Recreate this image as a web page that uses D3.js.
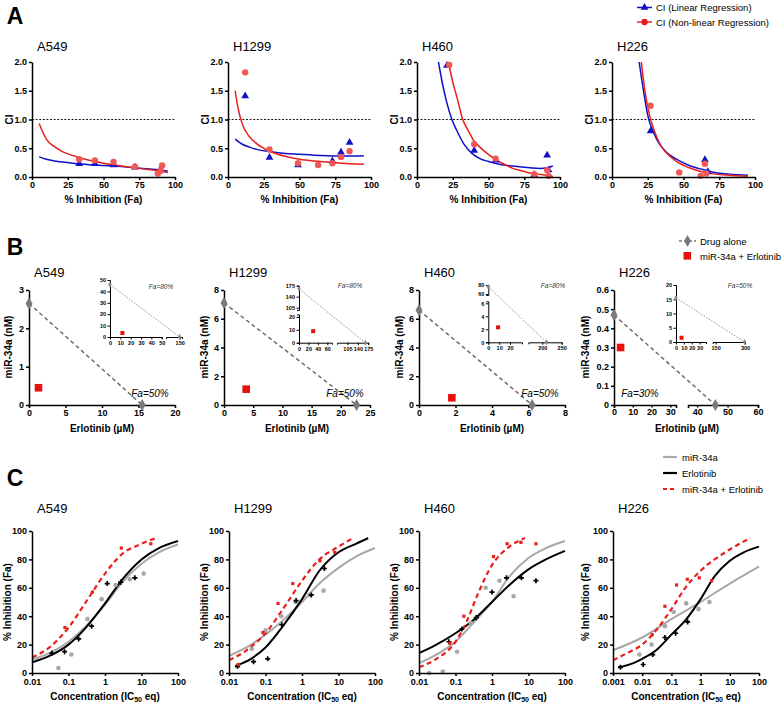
<!DOCTYPE html>
<html><head><meta charset="utf-8">
<script src="https://cdn.jsdelivr.net/npm/d3@7/dist/d3.min.js"></script>
<style>body{margin:0;background:#fff}svg{display:block}</style>
</head><body>
<svg id="chart" width="783" height="704"></svg>
<script>
// ================= DATA =================
const cellLines = ["A549", "H1299", "H460", "H226"];

// ---- Panel A: CI vs Fa ----
const ciXTicks = [0, 25, 50, 75, 100];
const ciYTicks = [0, 0.5, 1.0, 1.5, 2.0];
const ciLinCurveA549 = [[5,.35],[10,.31],[20,.265],[30,.235],[40,.215],[50,.2],[60,.185],[70,.165],[80,.145],[90,.12],[95,.1]];
const ciNonCurveA549 = [[5,.93],[10,.66],[15,.54],[20,.46],[30,.36],[40,.29],[50,.24],[60,.2],[70,.165],[80,.135],[90,.1],[95,.08]];
const ciLinPtsA549 = [[33,.23],[44,.23],[57,.21],[72,.17],[89,.1]];
const ciNonPtsA549 = [[33,.31],[44,.29],[57,.26],[72,.18],[88,.06],[90,.12],[91,.2]];
const ciLinCurveH1299 = [[5,.66],[10,.57],[15,.52],[20,.48],[30,.44],[40,.41],[50,.395],[60,.38],[70,.37],[80,.365],[90,.365],[95,.37]];
const ciNonCurveH1299 = [[5,1.5],[7,1.2],[10,.92],[15,.7],[20,.58],[30,.44],[40,.36],[50,.31],[60,.28],[70,.26],[80,.24],[90,.225],[95,.22]];
const ciLinPtsH1299 = [[12,1.41],[29,.34],[49,.21],[73,.28],[79,.43],[85,.6]];
const ciNonPtsH1299 = [[12,1.82],[29,.48],[49,.24],[63,.21],[73,.24],[79,.35],[85,.45]];
const ciLinCurveH460 = [[15,2.0],[18,1.6],[21,1.28],[24.4,1.0],[28,.8],[32.6,.58],[38,.42],[44,.32],[50,.27],[56,.23],[67,.19],[79,.16],[86,.15],[91,.16],[95,.19]];
const ciNonCurveH460 = [[22,2.0],[25,1.65],[28,1.38],[32,1.0],[36,.8],[39.5,.64],[44,.52],[49,.41],[56,.29],[62,.21],[67,.15],[73,.11],[79,.07],[85,.05],[91,.03],[95,.01]];
const ciLinPtsH460 = [[21,1.94],[40,.46],[55,.29],[82,.04],[91,.38],[92,.12]];
const ciNonPtsH460 = [[22.5,1.95],[40,.57],[55,.32],[82,.05],[91,.12],[92,.02]];
const ciLinCurveH226 = [[19,2.0],[22,1.5],[25.6,1.01],[29,.78],[33,.58],[38,.43],[45,.31],[54,.2],[63.5,.13],[72,.08],[82,.05],[95,.03]];
const ciNonCurveH226 = [[20.5,2.0],[23,1.5],[26.5,1.05],[30,.78],[33,.6],[38,.42],[45,.27],[54,.16],[63,.09],[72,.05],[82,.03],[95,.015]];
const ciLinPtsH226 = [[27,.8],[65,.3],[67,.09]];
const ciNonPtsH226 = [[27,1.24],[47,.08],[62,.02],[65,.23],[66,.06]];
const ciLegend = ["CI (Linear Regression)", "CI (Non-linear Regression)"];

// ---- Panel B: isobolograms ----
const isoDrugA549 = [[0,2.65],[15.5,0]];
const isoComboA549 = [[1.3,0.45]];
const isoDrugH1299 = [[0,7.1],[22.7,0]];
const isoComboH1299 = [[3.8,1.1]];
const isoDrugH460 = [[0,6.6],[6.2,0]];
const isoComboH460 = [[1.8,0.5]];
const isoDrugH226 = [[0,0.47],[46,0]];
const isoComboH226 = [[3.5,0.3]];
const isoYMax = [3, 8, 8, 0.6];
const isoYTicks = [[0,1,2,3],[0,2,4,6,8],[0,2,4,6,8],[0,0.1,0.2,0.3,0.4,0.5,0.6]];
const isoXMax = [20, 25, 8];
const isoXTicks = [[0,5,10,15,20],[0,5,10,15,20,25],[0,2,4,6,8]];
const isoXTicksH226 = [[0,10,20,30],[40,50,60]];
const isoFaMain = ["Fa=50%", "Fa=50%", "Fa=50%", "Fa=30%"];
// insets (Fa=80% / 50%)
const insDrugA549 = [[0,46],[150,0]];
const insComboA549 = [[12,3.5]];
const insDrugH1299 = [[0,165],[165,0]];
const insComboH1299 = [[30,9]];
const insDrugH460 = [[0,76],[211,0]];
const insComboH460 = [[9,2.3]];
const insDrugH226 = [[0,15.5],[298,0]];
const insComboH226 = [[7,1.5]];
const insFa = ["Fa=80%", "Fa=80%", "Fa=80%", "Fa=50%"];
const isoLegend = ["Drug alone", "miR-34a + Erlotinib"];

// ---- Panel C: dose-response ----
const drXTicks = [0.01, 0.1, 1, 10, 100];
const drXTicksH226 = [0.001, 0.01, 0.1, 1, 10, 100];
const drYTicks = [0, 20, 40, 60, 80, 100];
const mirCurveA549 = [[0.01,9.5],[0.03,14],[0.1,22],[0.3,33],[1,48],[3,64],[10,77],[30,85],[100,90.5]];
const erlCurveA549 = [[0.01,7.5],[0.03,12],[0.1,20],[0.3,32],[1,49],[3,66],[10,80],[30,88],[100,93]];
const cmbCurveA549 = [[0.01,11],[0.03,18],[0.1,32],[0.3,50],[1,70],[3,84],[10,91],[25,95]];
const mirPtsA549 = [[0.053,3.5],[0.12,13],[0.33,38],[0.81,52],[1.95,62],[4.8,66],[11.5,70]];
const erlPtsA549 = [[0.035,14],[0.078,15],[0.19,24],[0.43,33],[1.15,63],[2.7,64],[6.6,67]];
const cmbPtsA549 = [[0.08,32],[0.45,57],[2.8,88],[18,91]];
const mirCurveH1299 = [[0.01,12],[0.03,18],[0.1,27],[0.3,37],[1,50],[3,63],[10,74],[30,82],[100,88]];
const erlCurveH1299 = [[0.015,5],[0.04,10],[0.1,18],[0.3,33],[1,52],[3,72],[10,85],[30,91],[65,95]];
const cmbCurveH1299 = [[0.01,9],[0.03,16],[0.1,28],[0.3,45],[1,65],[3,80],[10,89],[25,95]];
const mirPtsH1299 = [[0.018,5],[0.042,17],[0.1,30],[0.27,40],[0.66,50],[1.6,55],[3.9,58]];
const erlPtsH1299 = [[0.017,4.7],[0.047,8],[0.115,10],[0.28,34],[0.69,51],[1.8,55],[4.1,73.6]];
const cmbPtsH1299 = [[0.018,6],[0.085,28.5],[0.22,49],[0.56,63],[3.1,79],[7.9,85]];
const mirCurveH460 = [[0.01,7],[0.03,13],[0.1,22],[0.3,35],[1,50],[3,68],[10,81],[30,88],[100,93]];
const erlCurveH460 = [[0.01,14],[0.03,20],[0.1,28],[0.3,37],[1,50],[3,62],[10,73],[30,80],[100,86]];
const cmbCurveH460 = [[0.01,4],[0.03,10],[0.1,22],[0.2,36],[0.4,55],[1,76],[3,89],[8,95]];
const mirPtsH460 = [[0.019,0],[0.045,1],[0.11,15],[0.27,35],[0.67,60],[1.6,65],[3.9,54]];
const erlPtsH460 = [[0.066,22],[0.15,31],[0.37,39],[1.0,57],[2.5,67],[6.4,67],[16,65]];
const cmbPtsH460 = [[0.07,21],[0.17,40],[1.1,82],[2.6,91],[6.2,92],[16,91]];
const mirCurveH226 = [[0.001,16],[0.01,25],[0.1,38],[1,50],[10,63],[100,75]];
const erlCurveH226 = [[0.0015,4],[0.005,7],[0.01,10],[0.03,16],[0.1,27],[0.3,37],[1,52],[3,68],[10,79],[30,85],[100,89]];
const cmbCurveH226 = [[0.001,9],[0.003,14],[0.01,20],[0.03,30],[0.1,45],[0.3,60],[1,72],[3,80],[10,87],[50,95]];
const mirPtsH226 = [[0.008,13],[0.021,20],[0.06,33],[0.12,43],[0.32,49],[0.85,45],[2.0,50]];
const erlPtsH226 = [[0.0018,4],[0.0108,6],[0.023,13],[0.06,25],[0.14,28],[0.36,36]];
const cmbPtsH226 = [[0.022,27],[0.06,47],[0.15,62],[0.35,66],[0.9,67],[2.4,65]];
const drLegend = ["miR-34a", "Erlotinib", "miR-34a + Erlotinib"];

// ================= DRAWING =================
const FAM = '"Liberation Sans", Arial, Helvetica, sans-serif';
const svg = d3.select("#chart");
const defs = svg.append("defs");
const RED = "#e8201c", BLUE = "#1010c8", REDPT = "#f05858";

function styleAxis(sel, fs, sw) {
  sel.selectAll(".domain").attr("stroke", "#000").attr("stroke-width", sw);
  sel.selectAll(".tick line").attr("stroke", "#000").attr("stroke-width", sw);
  sel.selectAll(".tick text").attr("font-family", FAM).attr("font-size", fs)
    .attr("font-weight", "bold").attr("fill", "#000");
}
function label(x, y, s, o = {}) {
  const t = svg.append("text").attr("x", x).attr("y", y).text(s)
    .attr("font-family", FAM).attr("font-size", o.size || 10)
    .attr("font-weight", o.weight || "normal").attr("fill", o.fill || "#000")
    .attr("text-anchor", o.anchor || "start").attr("dominant-baseline", "central");
  if (o.italic) t.attr("font-style", "italic");
  if (o.rotate) t.attr("transform", `rotate(-90,${x},${y})`);
  return t;
}
function clip(id, x, y, w, h) {
  defs.append("clipPath").attr("id", id).append("rect")
    .attr("x", x).attr("y", y).attr("width", w).attr("height", h);
  return `url(#${id})`;
}

// panel letters
label(15, 16, "A", {size: 23, weight: "bold", anchor: "middle"});
label(15, 247, "B", {size: 23, weight: "bold", anchor: "middle"});
label(15, 478, "C", {size: 23, weight: "bold", anchor: "middle"});

// ---------- Row A ----------
const A = {left: [32, 228, 417, 612], w: 143, top: 62, bot: 177};
const ciLinCurves = [ciLinCurveA549, ciLinCurveH1299, ciLinCurveH460, ciLinCurveH226];
const ciNonCurves = [ciNonCurveA549, ciNonCurveH1299, ciNonCurveH460, ciNonCurveH226];
const ciLinPts = [ciLinPtsA549, ciLinPtsH1299, ciLinPtsH460, ciLinPtsH226];
const ciNonPts = [ciNonPtsA549, ciNonPtsH1299, ciNonPtsH460, ciNonPtsH226];
const triangle = d3.symbol().type(d3.symbolTriangle).size(26);

cellLines.forEach((name, i) => {
  const x0 = A.left[i];
  const x = d3.scaleLinear().domain([0, 100]).range([x0, x0 + A.w]);
  const y = d3.scaleLinear().domain([0, 2]).range([A.bot, A.top]);
  const g = svg.append("g");
  const cp = clip("ca" + i, x0, A.top - 1, A.w + 2, A.bot - A.top + 1);
  g.append("line").attr("x1", x(0)).attr("x2", x(100)).attr("y1", y(1)).attr("y2", y(1))
    .attr("stroke", "#000").attr("stroke-width", 0.9).attr("stroke-dasharray", "2,1.6");
  const line = d3.line().x(d => x(d[0])).y(d => y(d[1])).curve(d3.curveMonotoneX);
  g.append("path").attr("d", line(ciLinCurves[i])).attr("fill", "none")
    .attr("stroke", BLUE).attr("stroke-width", 1.5).attr("clip-path", cp);
  g.append("path").attr("d", line(ciNonCurves[i])).attr("fill", "none")
    .attr("stroke", RED).attr("stroke-width", 1.5).attr("clip-path", cp);
  g.selectAll(".tri").data(ciLinPts[i]).join("path").attr("d", triangle)
    .attr("transform", d => `translate(${x(d[0])},${y(d[1])})`).attr("fill", BLUE);
  g.selectAll(".dot").data(ciNonPts[i]).join("circle")
    .attr("cx", d => x(d[0])).attr("cy", d => y(d[1])).attr("r", 3.2).attr("fill", REDPT);
  g.append("g").attr("transform", `translate(0,${A.bot})`)
    .call(d3.axisBottom(x).tickValues(ciXTicks).tickSize(3).tickSizeOuter(0).tickPadding(2))
    .call(styleAxis, 9, 1.5);
  g.append("g").attr("transform", `translate(${x0},0)`)
    .call(d3.axisLeft(y).tickValues(ciYTicks).tickFormat(d3.format(".1f")).tickSize(3).tickSizeOuter(0).tickPadding(2))
    .call(styleAxis, 9, 1.5);
  label(x0 + 5, 46, name, {size: 13});
  label(x0 - 23, y(1), "CI", {size: 10, weight: "bold", anchor: "middle", rotate: true});
  label(x0 + A.w / 2, 199, "% Inhibition (Fa)", {size: 10, weight: "bold", anchor: "middle"});
});
// legend A
[[BLUE, "tri"], [RED, "dot"]].forEach((s, k) => {
  const yy = 7.5 + k * 14.5;
  svg.append("line").attr("x1", 637).attr("x2", 652).attr("y1", yy).attr("y2", yy)
    .attr("stroke", s[0]).attr("stroke-width", 1.5);
  if (s[1] === "tri") svg.append("path").attr("d", triangle).attr("transform", `translate(644.5,${yy})`).attr("fill", s[0]);
  else svg.append("circle").attr("cx", 644.5).attr("cy", yy).attr("r", 3.2).attr("fill", s[0]);
  label(656, yy, ciLegend[k], {size: 9.5});
});

// ---------- Row B ----------
const B = {left: [29, 224, 419, 614], w: 146, top: 290, bot: 405};
const isoDrug = [isoDrugA549, isoDrugH1299, isoDrugH460, isoDrugH226];
const isoCombo = [isoComboA549, isoComboH1299, isoComboH460, isoComboH226];
const insDrug = [insDrugA549, insDrugH1299, insDrugH460, insDrugH226];
const insCombo = [insComboA549, insComboH1299, insComboH460, insComboH226];
const diamond = d3.symbol().type(d3.symbolDiamond).size(42);
const GRAYD = "#7a7a7a";

function piecewise(segs) {
  const sc = segs.map(s => d3.scaleLinear().domain(s.d).range(s.r));
  return v => {
    for (let k = 0; k < segs.length; k++) {
      if (v >= segs[k].d[0] && v <= segs[k].d[1]) return sc[k](v);
    }
    return v < segs[0].d[0] ? sc[0](v) : sc[segs.length - 1](v);
  };
}
function segAxes(g, segs, orient, pos, fs, sw, outer) {
  segs.forEach(s => {
    const sc = d3.scaleLinear().domain(s.d).range(s.r);
    const ax = (orient === "bottom" ? d3.axisBottom(sc) : d3.axisLeft(sc))
      .tickValues(s.t).tickSize(2.5).tickSizeOuter(outer).tickPadding(1.5).tickFormat(s.f || (d => d));
    g.append("g").attr("transform", orient === "bottom" ? `translate(0,${pos})` : `translate(${pos},0)`)
      .call(ax).call(styleAxis, fs, sw);
  });
}

// inset layout (positions) + tick labels
const insetLayout = [
  {x0: 110, y0: 337,
   xs: [{d: [0, 50], r: [110, 161.7], t: [0, 10, 20, 30, 40, 50]}, {d: [120, 155], r: [166, 182], t: [150]}],
   ys: [{d: [0, 50], r: [337, 280], t: [0, 10, 20, 30, 40, 50]}], fa: [161, 286]},
  {x0: 299, y0: 342.7,
   xs: [{d: [0, 70], r: [299, 332], t: [0, 20, 40, 60]}, {d: [70, 175], r: [337, 368.3], t: [105, 140, 175]}],
   ys: [{d: [0, 22], r: [342.7, 314.4], t: [0, 10, 20]}, {d: [98, 175], r: [309.9, 285.7], t: [105, 140, 175]}], fa: [350, 285]},
  {x0: 488.3, y0: 342.3,
   xs: [{d: [0, 31], r: [488.3, 522], t: [0, 10, 20]}, {d: [164, 250], r: [528.3, 561.7], t: [200, 250]}],
   ys: [{d: [0, 6.3], r: [342.3, 301.4], t: [0, 2, 4, 6]}, {d: [58, 80], r: [295, 285], t: [60, 80]}], fa: [553, 285]},
  {x0: 676, y0: 342,
   xs: [{d: [0, 38], r: [676, 706], t: [0, 10, 20, 30]}, {d: [135, 300], r: [712.7, 745], t: [150, 300]}],
   ys: [{d: [0, 20], r: [342, 285], t: [0, 5, 10, 15, 20]}], fa: [740, 285]}
];
const faMainPos = [[150, 393], [345, 393], [540, 393], [640, 393]];
const isoYTitleOff = [-21, -20, -20, -29];

cellLines.forEach((name, i) => {
  const x0 = B.left[i];
  const g = svg.append("g");
  const y = d3.scaleLinear().domain([0, isoYMax[i]]).range([B.bot, B.top]);
  let xf;
  if (i < 3) {
    const x = d3.scaleLinear().domain([0, isoXMax[i]]).range([x0, x0 + B.w]);
    xf = x;
    g.append("g").attr("transform", `translate(0,${B.bot})`)
      .call(d3.axisBottom(x).tickValues(isoXTicks[i]).tickSize(3).tickSizeOuter(0).tickPadding(2))
      .call(styleAxis, 9, 1.5);
  } else {
    const segs = [{d: [0, 33], r: [614, 676], t: isoXTicksH226[0]}, {d: [37, 60], r: [688, 758], t: isoXTicksH226[1]}];
    xf = piecewise(segs);
    segAxes(g, segs, "bottom", B.bot, 9, 1.5, 3);
  }
  const fmt = i === 3 ? (d => d === 0 ? "0" : d3.format(".1f")(d)) : (d => d);
  // dashed isobole
  const dd = isoDrug[i];
  g.append("line").attr("x1", xf(dd[0][0])).attr("y1", y(dd[0][1])).attr("x2", xf(dd[1][0])).attr("y2", y(dd[1][1]))
    .attr("stroke", "#6e6e6e").attr("stroke-width", 1.5).attr("stroke-dasharray", "4,3");
  g.append("g").attr("transform", `translate(${x0},0)`)
    .call(d3.axisLeft(y).tickValues(isoYTicks[i]).tickFormat(fmt).tickSize(3).tickSizeOuter(0).tickPadding(2))
    .call(styleAxis, 9, 1.5);
  g.selectAll(".dia").data(dd).join("path").attr("d", diamond)
    .attr("transform", d => `translate(${xf(d[0])},${y(d[1])})`).attr("fill", GRAYD);
  g.selectAll(".sq").data(isoCombo[i]).join("rect")
    .attr("x", d => xf(d[0]) - 3.8).attr("y", d => y(d[1]) - 3.8).attr("width", 7.6).attr("height", 7.6).attr("fill", "#e8100c");
  label(faMainPos[i][0], faMainPos[i][1], isoFaMain[i], {size: 10, italic: true, anchor: "middle"});
  label(x0 + 5, 272, name, {size: 13});
  label(x0 + isoYTitleOff[i], 347, "miR-34a (nM)", {size: 10, weight: "bold", anchor: "middle", rotate: true});
  label(x0 + B.w / 2, 428, "Erlotinib (\u00b5M)", {size: 10, weight: "bold", anchor: "middle"});

  // inset
  const L = insetLayout[i];
  const ix = piecewise(L.xs), iy = piecewise(L.ys);
  const gi = svg.append("g");
  const idd = insDrug[i];
  gi.append("line").attr("x1", ix(idd[0][0])).attr("y1", iy(idd[0][1])).attr("x2", ix(idd[1][0])).attr("y2", iy(idd[1][1]))
    .attr("stroke", "#777").attr("stroke-width", 0.8).attr("stroke-dasharray", "1.5,1.5");
  segAxes(gi, L.xs, "bottom", L.y0, 5.5, 1, 2);
  segAxes(gi, L.ys, "left", L.x0, 5.5, 1, 2);
  gi.selectAll(".idia").data(idd).join("path").attr("d", d3.symbol().type(d3.symbolDiamond).size(10))
    .attr("transform", d => `translate(${ix(d[0])},${iy(d[1])})`).attr("fill", "#888");
  gi.selectAll(".isq").data(insCombo[i]).join("rect")
    .attr("x", d => ix(d[0]) - 2).attr("y", d => iy(d[1]) - 2).attr("width", 4).attr("height", 4).attr("fill", "#e8100c");
  label(L.fa[0], L.fa[1], insFa[i], {size: 6.5, italic: true, anchor: "middle", fill: "#333"});
});
// legend B
svg.append("line").attr("x1", 679).attr("x2", 696).attr("y1", 241).attr("y2", 241)
  .attr("stroke", GRAYD).attr("stroke-width", 1.5).attr("stroke-dasharray", "3,2");
svg.append("path").attr("d", diamond).attr("transform", "translate(687.5,241)").attr("fill", GRAYD);
svg.append("rect").attr("x", 683.5).attr("y", 252).attr("width", 7.6).attr("height", 7.6).attr("fill", "#e8100c");
label(700, 241, isoLegend[0], {size: 9.5});
label(700, 256, isoLegend[1], {size: 9.5});

// ---------- Row C ----------
const C = {left: [32, 229, 419, 613], w: 146, top: 531, bot: 673};
const mirCurves = [mirCurveA549, mirCurveH1299, mirCurveH460, mirCurveH226];
const erlCurves = [erlCurveA549, erlCurveH1299, erlCurveH460, erlCurveH226];
const cmbCurves = [cmbCurveA549, cmbCurveH1299, cmbCurveH460, cmbCurveH226];
const mirPts = [mirPtsA549, mirPtsH1299, mirPtsH460, mirPtsH226];
const erlPts = [erlPtsA549, erlPtsH1299, erlPtsH460, erlPtsH226];
const cmbPts = [cmbPtsA549, cmbPtsH1299, cmbPtsH460, cmbPtsH226];
const cross = d3.symbol().type(d3.symbolCross).size(14);
const GRAYL = "#a8a8a8";
const drYTitleOff = [-25, -25, -25, -28];

cellLines.forEach((name, i) => {
  const x0 = C.left[i];
  const ticks = i === 3 ? drXTicksH226 : drXTicks;
  const x = d3.scaleLog().domain([ticks[0], 100]).range([x0, x0 + C.w]);
  const y = d3.scaleLinear().domain([0, 100]).range([C.bot, C.top]);
  const g = svg.append("g");
  const line = d3.line().x(d => x(d[0])).y(d => y(d[1])).curve(d3.curveMonotoneX);
  g.append("path").attr("d", line(mirCurves[i])).attr("fill", "none").attr("stroke", GRAYL).attr("stroke-width", 2);
  g.append("path").attr("d", line(erlCurves[i])).attr("fill", "none").attr("stroke", "#000").attr("stroke-width", 2);
  g.append("path").attr("d", line(cmbCurves[i])).attr("fill", "none").attr("stroke", RED).attr("stroke-width", 2.2).attr("stroke-dasharray", "5,3.5");
  g.selectAll(".gp").data(mirPts[i]).join("circle").attr("cx", d => x(d[0])).attr("cy", d => y(d[1])).attr("r", 2.3).attr("fill", GRAYL);
  g.selectAll(".bp").data(erlPts[i]).join("path").attr("d", cross)
    .attr("transform", d => `translate(${x(d[0])},${y(d[1])})`).attr("fill", "#000");
  g.selectAll(".rp").data(cmbPts[i]).join("rect").attr("x", d => x(d[0]) - 1.6).attr("y", d => y(d[1]) - 1.6)
    .attr("width", 3.2).attr("height", 3.2).attr("fill", RED);
  g.append("g").attr("transform", `translate(0,${C.bot})`)
    .call(d3.axisBottom(x).tickValues(ticks).tickFormat(d => String(d)).tickSize(3).tickSizeOuter(0).tickPadding(3))
    .call(styleAxis, 9, 1.5);
  g.append("g").attr("transform", `translate(${x0},0)`)
    .call(d3.axisLeft(y).tickValues(drYTicks).tickSize(3).tickSizeOuter(0).tickPadding(2))
    .call(styleAxis, 9, 1.5);
  label(x0 + 5, 508, name, {size: 13});
  label(x0 + drYTitleOff[i], (C.top + C.bot) / 2, "% Inhibition (Fa)", {size: 10, weight: "bold", anchor: "middle", rotate: true});
  const t = label(x0 + C.w / 2, 696, "Concentration (IC", {size: 10, weight: "bold", anchor: "middle"});
  t.append("tspan").text("50").attr("font-size", 7).attr("dy", 3);
  t.append("tspan").text(" eq)").attr("dy", -3);
});
// legend C
const legC = [[GRAYL, null], ["#000", null], [RED, "4,3"]];
legC.forEach((s, k) => {
  const yy = 457 + k * 16;
  const l = svg.append("line").attr("x1", 663).attr("x2", 677).attr("y1", yy).attr("y2", yy)
    .attr("stroke", s[0]).attr("stroke-width", 2.2);
  if (s[1]) l.attr("stroke-dasharray", s[1]);
  label(682, yy, drLegend[k], {size: 9.5});
});
</script>
</body></html>
